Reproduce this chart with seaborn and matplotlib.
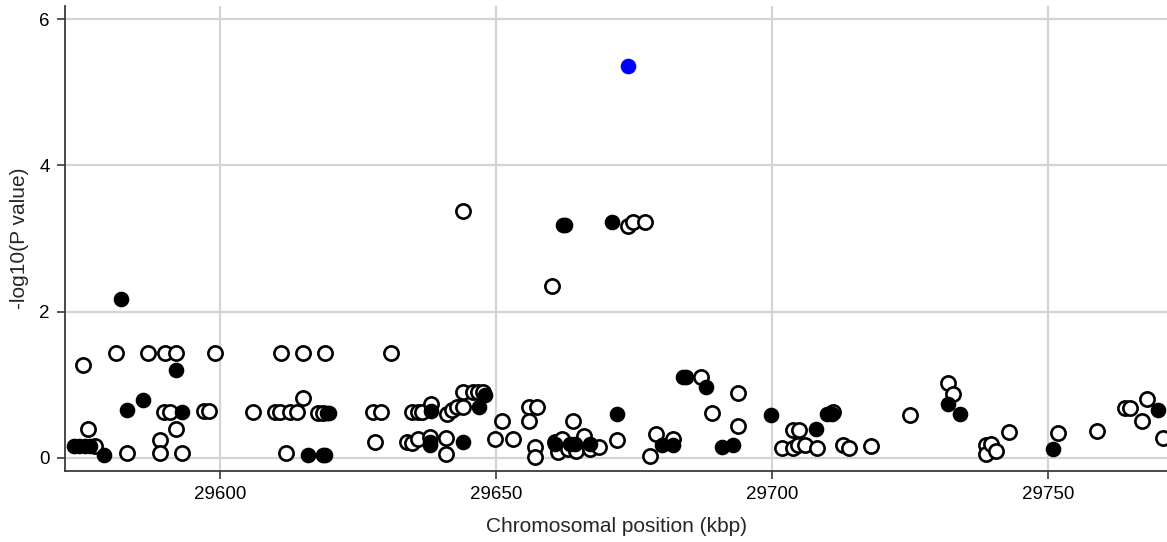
import matplotlib
matplotlib.use("Agg")
import matplotlib.pyplot as plt
import numpy as np
import pandas as pd
import seaborn as sns

# Open circles: SNPs (position in kbp, -log10 P)
open_pos = [
    29575.1, 29576.0, 29577.4, 29581.1, 29583.1, 29587.0, 29589.1, 29589.1,
    29589.9, 29590.0, 29590.9, 29592.0, 29592.0, 29593.1, 29597.0, 29598.0,
    29599.1, 29606.0, 29610.0, 29610.9, 29611.1, 29612.0, 29612.7, 29613.9,
    29615.1, 29615.1, 29617.8, 29618.7, 29619.1,
    29627.8, 29628.1, 29629.2, 29631.0, 29633.8, 29634.7, 29634.7, 29635.8,
    29635.9, 29636.6, 29638.0, 29638.2, 29641.0, 29641.0, 29641.1, 29642.0,
    29642.9, 29644.0, 29644.1, 29644.1, 29645.9, 29646.8, 29647.7, 29649.9,
    29651.1, 29653.0, 29656.0, 29656.0, 29657.0, 29657.1, 29657.4, 29660.1,
    29660.7, 29661.2, 29662.0, 29663.0, 29664.5, 29666.0, 29667.0, 29668.6,
    29672.0, 29663.9, 29674.0, 29674.9, 29677.0,
    29678.0, 29679.0, 29682.0, 29687.1, 29689.1, 29693.9, 29693.9, 29701.9,
    29703.9, 29703.9, 29704.8, 29704.9, 29706.0, 29708.1, 29711.1, 29712.8,
    29713.9, 29718.0, 29725.0, 29731.9, 29732.8, 29738.8, 29738.8, 29739.7,
    29740.6, 29743.0, 29751.9, 29758.9, 29763.9, 29764.9, 29767.0, 29767.9,
    29770.8,
]
open_val = [
    1.27, 0.39, 0.16, 1.44, 0.06, 1.44, 0.24, 0.06,
    0.63, 1.44, 0.63, 1.44, 0.39, 0.06, 0.64, 0.64,
    1.44, 0.63, 0.63, 0.63, 1.44, 0.06, 0.63, 0.63,
    1.44, 0.82, 0.62, 0.62, 1.43,
    0.63, 0.21, 0.63, 1.44, 0.21, 0.63, 0.20, 0.63,
    0.26, 0.63, 0.28, 0.74, 0.27, 0.05, 0.60, 0.65,
    0.69, 0.90, 0.70, 3.37, 0.90, 0.90, 0.90, 0.26,
    0.50, 0.26, 0.70, 0.50, 0.15, 0.01, 0.70, 2.35,
    0.22, 0.08, 0.26, 0.12, 0.10, 0.30, 0.12, 0.15,
    0.24, 0.50, 3.17, 3.22, 3.22,
    0.02, 0.32, 0.26, 1.10, 0.61, 0.88, 0.43, 0.13,
    0.38, 0.13, 0.17, 0.38, 0.17, 0.14, 0.63, 0.17,
    0.14, 0.16, 0.58, 1.02, 0.87, 0.18, 0.05, 0.19,
    0.10, 0.35, 0.34, 0.37, 0.68, 0.68, 0.51, 0.81,
    0.27,
]

# Filled circles: genotyped SNPs
filled_pos = [
    29573.5, 29574.5, 29575.5, 29576.5, 29579.0, 29582.1, 29583.1, 29586.1,
    29592.0, 29593.1, 29616.0, 29618.7, 29619.1, 29619.3, 29619.7,
    29638.0, 29638.0, 29638.2, 29644.1, 29647.0, 29648.1,
    29660.7, 29662.2, 29662.5, 29663.4, 29664.3, 29667.0, 29671.1, 29672.0,
    29680.0, 29682.1, 29683.9, 29684.5, 29688.0, 29690.9, 29693.0,
    29699.9, 29708.0, 29710.0, 29710.9, 29731.9, 29734.1, 29751.0, 29770.0,
]
filled_val = [
    0.16, 0.16, 0.16, 0.16, 0.04, 2.17, 0.65, 0.79,
    1.20, 0.63, 0.04, 0.04, 0.04, 0.62, 0.62,
    0.21, 0.17, 0.64, 0.21, 0.70, 0.86,
    0.19, 3.18, 3.18, 0.19, 0.19, 0.19, 3.22, 0.60,
    0.17, 0.17, 1.10, 1.10, 0.97, 0.15, 0.17,
    0.58, 0.39, 0.60, 0.60, 0.73, 0.60, 0.12, 0.66,
]

# Lead SNP
lead_pos = [29674.0]
lead_val = [5.36]

df_open = pd.DataFrame({"pos": open_pos, "logp": open_val})
df_filled = pd.DataFrame({"pos": filled_pos, "logp": filled_val})
df_lead = pd.DataFrame({"pos": lead_pos, "logp": lead_val})

sns.set_theme(style="white")
plt.rcParams["font.family"] = ["Liberation Sans", "DejaVu Sans"]

fig = plt.figure(figsize=(11.67, 5.42), dpi=100)
ax = fig.add_axes([0.0557, 0.131, 0.9443, 0.858])

ax.grid(True, color="#d4d4d4", linewidth=1.6)
ax.set_axisbelow(True)

msize = 105
sns.scatterplot(data=df_open, x="pos", y="logp", ax=ax, s=msize,
                facecolor="white", edgecolor="black", linewidth=1.9,
                zorder=3, legend=False)
sns.scatterplot(data=df_filled, x="pos", y="logp", ax=ax, s=msize,
                color="black", edgecolor="black", linewidth=1.0,
                zorder=4, legend=False)
sns.scatterplot(data=df_lead, x="pos", y="logp", ax=ax, s=msize,
                color="#0000ff", edgecolor="#0000ff", linewidth=1.0,
                zorder=5, legend=False)

ax.set_xlim(29571.9, 29771.6)
ax.set_ylim(-0.18, 6.18)
ax.set_xticks([29600, 29650, 29700, 29750])
ax.set_yticks([0, 2, 4, 6])

for side in ("top", "right"):
    ax.spines[side].set_visible(False)
for side in ("left", "bottom"):
    ax.spines[side].set_color("#3a3a3a")
    ax.spines[side].set_linewidth(1.3)

ax.tick_params(axis="both", which="major", direction="out", length=6,
               width=1.2, color="#3a3a3a", labelsize=13.5, labelcolor="black",
               bottom=True, left=True, pad=5)

ax.set_xlabel("Chromosomal position (kbp)", fontsize=15, labelpad=10)
ax.set_ylabel("-log10(P value)", fontsize=15)
ax.yaxis.set_label_coords(-0.033, 0.5)

fig.savefig("out.png", dpi=100)
